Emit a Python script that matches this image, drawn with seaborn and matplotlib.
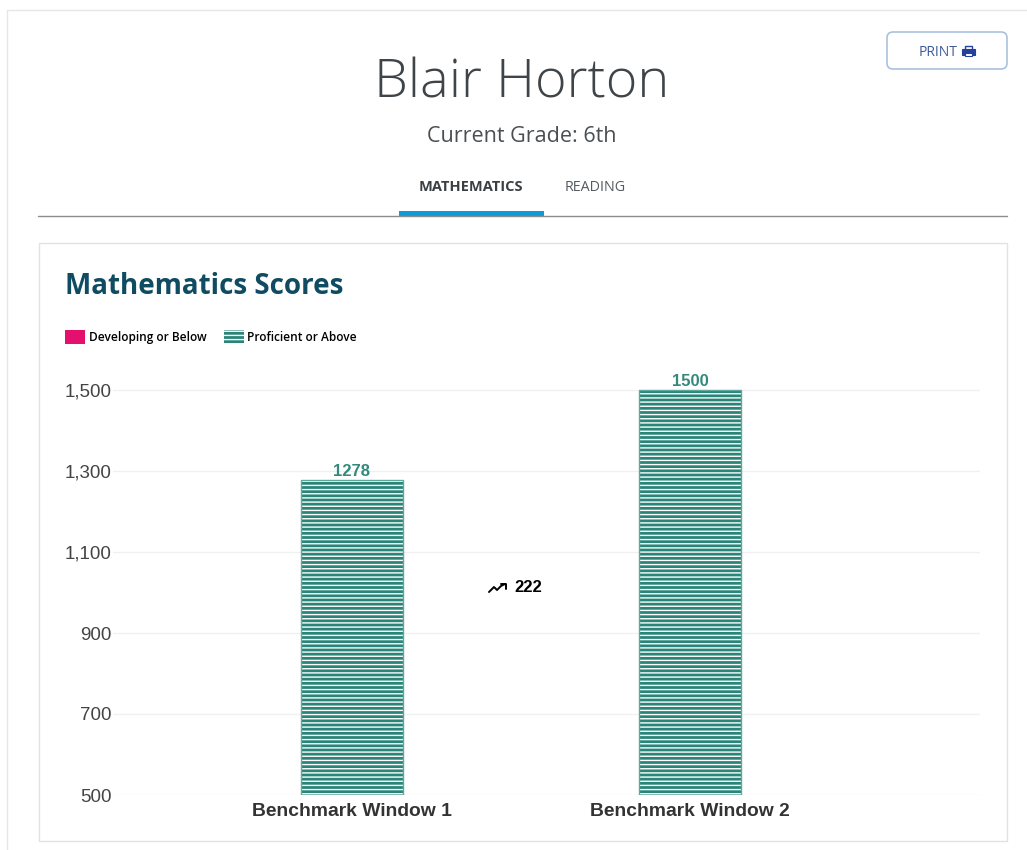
import matplotlib
matplotlib.use('Agg')
import matplotlib.pyplot as plt
from matplotlib.patches import Rectangle, FancyBboxPatch, Patch
from matplotlib.ticker import FuncFormatter
import seaborn as sns
import pandas as pd

# Data
windows = ['Benchmark Window 1', 'Benchmark Window 2']
scores = [1278, 1500]
y_ticks = [500, 700, 900, 1100, 1300, 1500]
change_label = '222'
legend_labels = ['Developing or Below', 'Proficient or Above']

W, H = 1027, 850
TEAL = '#2a8579'
UI_FONT = 'Open Sans'

sns.set_theme(style='whitegrid')
plt.rcParams['hatch.linewidth'] = 1.0
plt.rcParams['font.family'] = ['Liberation Sans', 'DejaVu Sans']

fig = plt.figure(figsize=(W / 100, H / 100), dpi=100, facecolor='white')


def pixel_axes(zorder):
    a = fig.add_axes([0, 0, 1, 1], zorder=zorder)
    a.set_xlim(0, W)
    a.set_ylim(H, 0)
    a.axis('off')
    return a


# Page furniture, in pixel coordinates
ui = pixel_axes(0)

ui.plot([7, 7], [10, H], color='#e6e6e6', lw=1)
ui.plot([7, W], [10, 10], color='#e6e6e6', lw=1)
ui.add_patch(Rectangle((38.5, 242.5), 968, 598, fc='white', ec='#e2e2e2', lw=1))
ui.plot([38, 1007], [216, 216], color='#8c8c8c', lw=1)
ui.add_patch(Rectangle((399, 211), 145, 5, fc='#0f9bd7', ec='none'))

ui.text(522, 84, 'Blair Horton', family=UI_FONT, fontweight='light', fontsize=39,
        color='#3f4448', ha='center', va='center')
ui.text(522, 136, 'Current Grade: 6th', family=UI_FONT, fontsize=15.5,
        color='#4a4f53', ha='center', va='center')
ui.text(471, 187, 'MATHEMATICS', family=UI_FONT, fontweight='bold', fontsize=10.5,
        color='#3a3f44', ha='center', va='center')
ui.text(595, 187, 'READING', family=UI_FONT, fontsize=10.3,
        color='#555a5e', ha='center', va='center')
ui.text(65, 287, 'Mathematics Scores', family=UI_FONT, fontweight='bold', fontsize=20,
        color='#0f4c62', ha='left', va='center')

# Print button
ui.add_patch(FancyBboxPatch((887, 32), 120, 37, boxstyle='round,pad=0,rounding_size=6',
                            fc='white', ec='#a9c1de', lw=1.2))
ui.text(919, 52, 'PRINT', family=UI_FONT, fontsize=10, color='#3f5a9c', ha='left', va='center')
ui.add_patch(Rectangle((965, 46), 7, 4, fc='white', ec='#24409a', lw=1))
ui.add_patch(Rectangle((962, 49), 13, 6, fc='#24409a', ec='#24409a', lw=0.8))
ui.add_patch(Rectangle((965, 53), 7, 3, fc='white', ec='#24409a', lw=0.8))

# Chart
ax = fig.add_axes([113 / W, 1 - 795 / H, (980 - 113) / W, (795 - 380) / H], zorder=1)
ax.patch.set_alpha(0)
df = pd.DataFrame({'window': windows, 'score': scores})
sns.barplot(data=df, x='window', y='score', ax=ax, color=TEAL, saturation=1,
            width=0.303, hatch='----', edgecolor='white', linewidth=0)
sns.barplot(data=df, x='window', y='score', ax=ax, fill=False, color='#5fa89c',
            width=0.303, linewidth=1)

ax.set_xlim(-239 / 338, 1 + 290 / 338)
ax.set_ylim(500, 500 + (795 - 380) / 405 * 1000)
ax.set_yticks(y_ticks)
ax.yaxis.set_major_formatter(FuncFormatter(lambda v, _: f'{int(v):,}'))
ax.set_xlabel('')
ax.set_ylabel('')
ax.grid(axis='x', visible=False)
ax.grid(axis='y', color='#f0f0f0', lw=1)
ax.set_axisbelow(True)
sns.despine(ax=ax, left=True, bottom=True)
ax.tick_params(axis='y', length=0, pad=1, labelsize=13.5, labelcolor='#444444')
ax.tick_params(axis='x', length=0, pad=6, labelsize=13.9, labelcolor='#333333')
for lab in ax.get_xticklabels():
    lab.set_fontweight('bold')

ax.bar_label(ax.containers[0], fmt='%d', padding=1, fontsize=12, fontweight='bold', color='#338a7c')

# Change between the two windows
top = pixel_axes(2)
top.plot([489, 494, 497, 501, 505], [592, 587, 590, 586, 584], color='black', lw=1.4)
top.plot([501, 506, 506], [584, 584, 589], color='black', lw=1.4)
top.text(514, 587, change_label, fontweight='bold', fontsize=12, color='black', ha='left', va='center')

handles = [Patch(fc='#e5106e', ec='none', label=legend_labels[0]),
           Patch(fc=TEAL, ec='white', lw=0, hatch='----', label=legend_labels[1])]
leg = fig.legend(handles=handles, loc='center left', bbox_to_anchor=(65 / W, 1 - 337 / H),
                 ncol=2, frameon=False, borderpad=0, borderaxespad=0, handlelength=1.67,
                 handleheight=1.34, handletextpad=0.33, columnspacing=1.42,
                 prop={'family': UI_FONT, 'size': 8.6, 'weight': 'semibold'})
for t in leg.get_texts():
    t.set_color('black')

fig.savefig('out.png', dpi=100, facecolor='white')
